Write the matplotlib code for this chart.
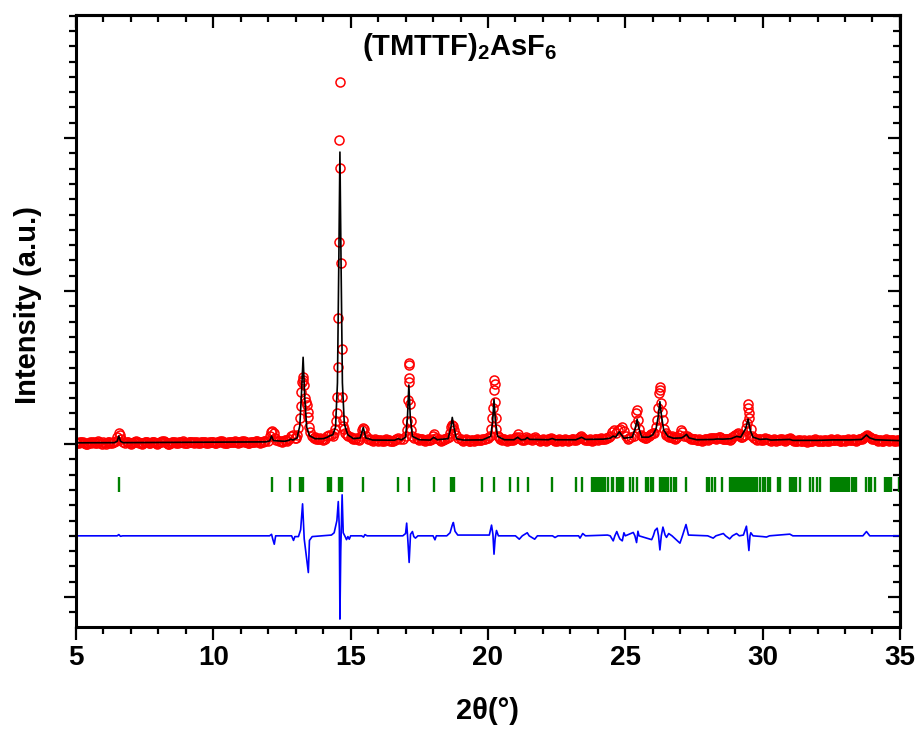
import matplotlib
matplotlib.use("Agg")
import matplotlib.pyplot as plt
from matplotlib import font_manager
from matplotlib.ticker import MultipleLocator
import numpy as np

# --- data ---------------------------------------------------------------
# background stretches of the observed scan (start angle, 0.05 deg step)
scan_step = 0.05
bg_runs = [
    (5.0, [12, 7, 4, 10, 16, 11, 8, 3, 2, 9, 14, 6, 10, 15, 5, 9, 17, 12, 7, 2,
           12, 8, 3, 11, 15, 6, 8, 14, 13]),
    (6.8, [6, 11, 14, 8, 3, 9, 12, 16, 17, 10, 8, 4, 2, 9, 15, 12, 11, 7, 5, 13,
           16, 11, 9, 3, 4, 10, 13, 17, 18, 12, 7, 3, 3, 9, 14, 11, 10, 5, 6, 14,
           12, 16, 17, 9, 5, 8, 11, 15, 16, 10, 8, 12, 13, 6, 4, 11, 15, 13, 10, 4,
           7, 12, 16, 14, 11, 6, 4, 10, 14, 17, 18, 13, 9, 5, 6, 12, 15, 14, 12, 16,
           17, 11, 8, 10, 13, 18, 19, 14, 10, 7, 6, 12, 16, 15, 12, 17, 20, 13, 9, 12,
           15, 17, 18]),
    (12.4, [22, 18, 14, 21, 27, 24, 20]),
    (13.7, [44, 36, 30, 34, 38, 32, 28]),
    (15.0, [46, 40, 32, 35, 38, 30, 28]),
    (15.7, [34, 27, 22, 26, 30, 24, 20, 25, 28, 21, 18, 26, 32, 28, 24, 20, 17, 23, 29]),
    (17.4, [38, 30, 26, 31, 33, 25, 20, 26, 30, 28, 24]),
    (18.2, [34, 28, 22, 27, 30, 35, 38]),
    (19.0, [36, 29, 22, 27, 31, 24, 18, 23, 29, 25, 20, 27, 33, 28, 24, 27, 30, 33,
            35, 38, 40]),
    (20.4, [44, 35, 28, 31, 34, 26, 20, 27, 32, 29, 26, 33, 38]),
    (21.2, [32, 28, 24, 36, 45, 40, 34, 30, 26, 38, 45, 36, 30, 25, 20, 26, 30, 24, 21, 27,
            31, 35, 37, 30, 26, 22, 18, 24, 30, 25, 20, 27, 32, 26, 22, 26, 29, 31, 33, 28,
            24, 32, 38, 46, 50, 42, 36, 29, 24, 28, 31, 26, 22, 29, 35, 30, 26, 32, 37, 34,
            30, 35, 40, 42, 44]),
    (25.1, [36, 42, 48]),
    (25.6, [52, 45, 38, 42, 48, 54, 58, 64, 72]),
    (26.5, [62, 52, 44, 48, 50, 42, 36, 42, 48]),
    (27.3, [48, 40, 30, 33, 36, 30, 24, 28, 32, 27, 22, 28, 34, 31, 28, 33, 38, 40, 42, 37,
            32, 40, 48, 43, 38, 34, 30, 33, 36, 32, 28, 36, 44, 52, 60, 66, 72, 58, 46, 49,
            52]),
    (29.7, [42, 35, 28, 31, 34, 29, 24, 32, 40, 36, 32, 27, 22, 26, 30, 25, 20, 24, 28, 30,
            31, 25, 19, 24, 30, 34, 38, 32, 26, 22, 18, 23, 28, 24, 20, 23, 27, 21, 16, 22,
            28, 23, 19, 24, 30, 24, 18, 22, 26, 23, 20, 24, 29, 23, 17, 24, 31, 27, 24, 27,
            30, 24, 19, 23, 28, 25, 21, 26, 32, 28, 24, 27, 30, 25, 20, 25, 31, 32, 34, 40,
            45, 52, 60, 54, 48, 38, 30, 32, 34, 28, 22, 25, 28, 23, 18, 24, 30, 25, 20, 24,
            29, 24, 19, 23, 27, 24, 22]),
]

# observed points across the reflections
peak_obs = [
    (6.45, 22), (6.50, 45), (6.55, 70), (6.60, 62), (6.65, 30), (6.70, 15),
    (12.00, 20), (12.05, 55), (12.10, 80), (12.15, 82), (12.20, 70), (12.25, 40), (12.30, 25),
    (12.75, 35), (12.82, 55), (12.90, 60), (12.97, 40),
    (13.02, 40), (13.06, 60), (13.10, 105), (13.14, 170), (13.18, 250), (13.21, 342),
    (13.24, 407), (13.26, 440), (13.28, 420), (13.31, 386), (13.34, 300), (13.37, 276),
    (13.40, 255), (13.43, 211), (13.46, 178), (13.49, 113), (13.53, 80), (13.58, 55), (13.65, 40),
    (14.05, 35), (14.15, 50), (14.22, 60), (14.28, 58), (14.34, 55), (14.40, 75),
    (14.44, 100), (14.47, 150), (14.49, 202), (14.51, 309), (14.53, 505), (14.55, 821),
    (14.57, 1322), (14.59, 1987), (14.61, 2368), (14.63, 1802), (14.65, 1181), (14.67, 621),
    (14.69, 305), (14.71, 157), (14.73, 115), (14.76, 95), (14.80, 75), (14.85, 60), (14.90, 50),
    (15.38, 55), (15.42, 90), (15.46, 105), (15.50, 95), (15.55, 55), (15.62, 35),
    (16.65, 30), (16.73, 38), (16.80, 30), (16.90, 30),
    (17.00, 50), (17.04, 90), (17.07, 150), (17.09, 288), (17.11, 429), (17.12, 531),
    (17.13, 515), (17.14, 407), (17.16, 260), (17.18, 150), (17.21, 90), (17.25, 55), (17.30, 40),
    (17.95, 30), (18.00, 55), (18.05, 65), (18.10, 40),
    (18.58, 45), (18.62, 75), (18.66, 110), (18.70, 124), (18.74, 120), (18.78, 92),
    (18.83, 60), (18.90, 40),
    (20.08, 50), (20.12, 96), (20.16, 168), (20.19, 233), (20.21, 353), (20.22, 418),
    (20.24, 390), (20.25, 277), (20.28, 168), (20.31, 96), (20.36, 55),
    (21.03, 45), (21.08, 65), (21.13, 45),
    (24.45, 50), (24.52, 80), (24.58, 92), (24.65, 75), (24.72, 90), (24.80, 100),
    (24.88, 110), (24.95, 85), (25.02, 50),
    (25.30, 55), (25.36, 124), (25.40, 200), (25.43, 222), (25.46, 157), (25.50, 100), (25.56, 60),
    (26.05, 75), (26.12, 110), (26.17, 157), (26.20, 233), (26.23, 331), (26.26, 375),
    (26.28, 350), (26.30, 266), (26.33, 211), (26.37, 157), (26.42, 100), (26.48, 70),
    (26.95, 60), (27.02, 92), (27.08, 80), (27.15, 50), (27.23, 55),
    (29.35, 60), (29.40, 102), (29.43, 135), (29.46, 233), (29.48, 261), (29.50, 200),
    (29.52, 168), (29.56, 100), (29.62, 55),
]

# calculated profile
calc_pts = [
    (5.0, 8), (6.40, 9), (6.50, 18), (6.56, 52), (6.62, 18), (6.72, 9),
    (11.9, 14), (12.05, 20), (12.12, 52), (12.19, 22), (12.6, 18), (12.75, 24), (12.82, 32),
    (12.9, 26), (13.05, 40), (13.15, 120), (13.21, 330), (13.27, 567), (13.33, 300),
    (13.40, 110), (13.5, 55), (13.7, 35), (14.0, 35), (14.16, 45), (14.25, 55), (14.35, 60),
    (14.45, 110), (14.52, 400), (14.57, 1200), (14.61, 1908), (14.65, 1200), (14.70, 400),
    (14.77, 130), (14.9, 60), (15.1, 35), (15.35, 40), (15.46, 109), (15.55, 40), (15.8, 26),
    (16.6, 25), (16.73, 35), (16.85, 27), (17.0, 45), (17.07, 180), (17.12, 386), (17.17, 180),
    (17.25, 50), (17.5, 28), (17.9, 26), (18.03, 44), (18.15, 28), (18.55, 35), (18.65, 110),
    (18.70, 174), (18.76, 110), (18.85, 35), (19.1, 26), (19.8, 27), (20.1, 50), (20.17, 150),
    (20.22, 292), (20.27, 150), (20.35, 50), (20.6, 28), (20.95, 28), (21.08, 44), (21.2, 28),
    (21.35, 30), (21.43, 42), (21.52, 30), (21.7, 30), (22.2, 28), (22.34, 36), (22.45, 28),
    (23.2, 28), (23.41, 44), (23.55, 30), (24.2, 32), (24.45, 38), (24.56, 52), (24.65, 45),
    (24.78, 80), (24.86, 60), (24.95, 38), (25.25, 45), (25.36, 100), (25.43, 161), (25.50, 100),
    (25.6, 45), (25.85, 45), (26.0, 60), (26.12, 100), (26.2, 180), (26.26, 277), (26.32, 180),
    (26.4, 90), (26.55, 50), (26.75, 38), (27.05, 40), (27.14, 50), (27.23, 63), (27.32, 40),
    (27.6, 28), (28.2, 30), (28.35, 33), (28.55, 32), (28.85, 35), (29.05, 50), (29.2, 45),
    (29.38, 100), (29.47, 163), (29.55, 90), (29.65, 45), (29.9, 30), (30.14, 33), (30.3, 26),
    (30.99, 30), (31.1, 24), (32.0, 24), (32.56, 27), (33.2, 27), (33.6, 30), (33.78, 59),
    (33.9, 40), (34.1, 28), (35.0, 22),
]

# difference curve (obs - calc), drawn shifted down
diff_offset = -600
diff_pts = [
    (5.0, 0), (6.5, 0), (6.56, 8), (6.62, -3), (6.7, 0), (12.05, 0), (12.12, 10), (12.17, -25),
    (12.22, -55), (12.27, 0), (12.85, 0), (12.92, -30), (12.97, -5), (13.1, -5), (13.18, 40),
    (13.25, 209), (13.31, -20), (13.38, -120), (13.46, -240), (13.50, -30), (13.6, -5),
    (14.3, 5), (14.4, 20), (14.5, 100), (14.55, 224), (14.59, 40), (14.61, -544), (14.64, -100),
    (14.69, 268), (14.73, 20), (14.8, -5), (14.85, -25), (14.9, -5), (14.95, -22), (15.0, 0),
    (15.4, 0), (15.47, -8), (15.52, 8), (15.6, 0), (16.9, 0), (17.0, 15), (17.04, 83),
    (17.08, -20), (17.13, -174), (17.18, 10), (17.25, 28), (17.3, -5), (17.36, -15), (17.45, 0),
    (18.0, 0), (18.07, -26), (18.12, 0), (18.5, 0), (18.62, 20), (18.7, 70), (18.74, 87),
    (18.8, 30), (18.9, 5), (20.05, 5), (20.13, 70), (20.18, 10), (20.22, -120), (20.26, -20),
    (20.31, 35), (20.38, 0), (21.0, 0), (21.14, -22), (21.25, 0), (21.43, 20), (21.5, 0),
    (21.7, -22), (21.8, 0), (22.35, 0), (22.44, -11), (22.55, 0), (23.3, 0), (23.35, -15),
    (23.45, 15), (23.55, 0), (24.35, 5), (24.45, 0), (24.56, -33), (24.62, 0), (24.69, 28),
    (24.75, 0), (24.80, -20), (24.89, -33), (24.95, 20), (25.0, 0), (25.29, 22), (25.35, 0),
    (25.41, -44), (25.46, 30), (25.5, 0), (25.96, -25), (26.02, 0), (26.08, 35), (26.16, 50),
    (26.21, 0), (26.26, -92), (26.31, 0), (26.37, 57), (26.45, 5), (26.5, -10), (26.58, 15),
    (26.7, 0), (26.99, -48), (27.08, 0), (27.21, 74), (27.3, 5), (28.0, 0), (28.2, -15),
    (28.3, 0), (28.57, 15), (28.65, 0), (28.8, -20), (28.9, 0), (29.05, 15), (29.15, 0),
    (29.3, 5), (29.41, 63), (29.45, 0), (29.50, -96), (29.54, 0), (29.57, 20), (29.65, 0),
    (30.0, -5), (30.14, -8), (30.25, 0), (30.99, 11), (31.1, 0), (33.65, 0), (33.78, 28),
    (33.9, 0), (35.0, 0),
]

# Bragg reflection positions
hkl_pos = [
    6.56, 12.12, 12.79, 13.15, 13.21, 13.27, 14.16, 14.22, 14.28, 14.58, 14.63, 14.69,
    15.46, 16.73, 17.12, 18.03, 18.64, 18.70, 18.77, 19.79, 20.22, 20.80, 21.10, 21.44,
    22.34, 23.20, 23.43,
    23.77, 23.83, 23.88, 23.93, 23.99, 24.04, 24.10, 24.15, 24.21, 24.26,
    24.38, 24.50, 24.56, 24.68, 24.78, 24.86, 24.93,
    25.17, 25.27, 25.41, 25.75, 25.84, 25.93, 26.02, 26.26, 26.33, 26.40, 26.48, 26.56,
    26.68, 26.77, 26.86, 27.21, 27.96, 28.06, 28.16, 28.26, 28.51,
    28.80, 28.86, 28.92, 28.98, 29.04, 29.10, 29.17, 29.23, 29.29, 29.35, 29.41, 29.48,
    29.54, 29.60, 29.66, 29.72, 29.78, 29.92, 30.00, 30.08, 30.18, 30.26, 30.57, 30.65,
    30.99, 31.06, 31.14, 31.22, 31.35, 31.74, 31.82, 31.97, 32.08,
    32.48, 32.55, 32.62, 32.70, 32.78, 32.86, 32.93, 33.00, 33.08, 33.16, 33.24, 33.32,
    33.40, 33.78, 33.86, 33.95, 34.09, 34.45, 34.52, 34.60, 34.69, 34.97,
]
hkl_lo, hkl_hi = -314, -216

# --- fonts ----------------------------------------------------------------
installed = {f.name for f in font_manager.fontManager.ttflist}
narrow = "Liberation Sans Narrow" if "Liberation Sans Narrow" in installed else "Liberation Sans"
plt.rcParams["font.family"] = [narrow, "DejaVu Sans"]
plt.rcParams["font.weight"] = "bold"
plt.rcParams["mathtext.fontset"] = "custom"
plt.rcParams["mathtext.rm"] = narrow
plt.rcParams["mathtext.bf"] = narrow + ":bold"

# --- assemble the scan ----------------------------------------------------
obs_t = []
obs_i = []
for start, vals in bg_runs:
    for k, v in enumerate(vals):
        obs_t.append(round(start + k * scan_step, 2))
        obs_i.append(v)
for t, v in peak_obs:
    obs_t.append(t)
    obs_i.append(v)

calc_t, calc_i = zip(*calc_pts)
diff_t, diff_v = zip(*diff_pts)

# --- plot -----------------------------------------------------------------
fig = plt.figure(figsize=(9.22, 7.29), dpi=100)
ax = fig.add_axes([0.0824, 0.1399, 0.8937, 0.8395])

ax.plot(obs_t, obs_i, "o", mfc="none", mec="red", ms=6.5, mew=1.1, zorder=2)
ax.plot(calc_t, calc_i, "-", color="black", lw=1.2, zorder=3)
ax.vlines(hkl_pos, hkl_lo, hkl_hi, color="green", lw=1.7, zorder=2)
ax.plot(diff_t, np.array(diff_v) + diff_offset, "-", color="blue", lw=1.2, zorder=2)

ax.set_xlim(5, 35)
ax.set_ylim(-1196, 2804)
ax.xaxis.set_major_locator(MultipleLocator(5))
ax.xaxis.set_minor_locator(MultipleLocator(1))
ax.yaxis.set_major_locator(MultipleLocator(1000))
ax.yaxis.set_minor_locator(MultipleLocator(100))
ax.set_yticklabels([])
ax.tick_params(which="both", direction="out", width=1.6, labelsize=20, pad=4)
ax.tick_params(which="major", length=9)
ax.tick_params(which="minor", length=5)
for s in ax.spines.values():
    s.set_linewidth(2.2)

# mirrored ticks pointing inward on top and right
top = ax.secondary_xaxis("top")
top.xaxis.set_major_locator(MultipleLocator(5))
top.xaxis.set_minor_locator(MultipleLocator(1))
top.tick_params(which="both", direction="in", width=1.6, labeltop=False)
top.tick_params(which="major", length=9)
top.tick_params(which="minor", length=5)
top.spines["top"].set_linewidth(2.2)

right = ax.secondary_yaxis("right")
right.yaxis.set_major_locator(MultipleLocator(1000))
right.yaxis.set_minor_locator(MultipleLocator(100))
right.tick_params(which="both", direction="in", width=1.6, labelright=False)
right.tick_params(which="major", length=9)
right.tick_params(which="minor", length=5)
right.spines["right"].set_linewidth(2.2)

fig.text(460 / 922, 1 - 55 / 729, r"(TMTTF)$_\mathbf{2}$AsF$_\mathrm{6}$",
         ha="center", va="baseline", fontsize=21, fontweight="bold")
fig.text(487 / 922, 1 - 719 / 729, "2θ(°)", ha="center", va="baseline",
         fontsize=21, fontweight="bold")
fig.text(28 / 922, 1 - 305 / 729, "Intensity (a.u.)", rotation=90,
         ha="center", va="center", fontsize=21, fontweight="bold",
         family=["Liberation Sans", "DejaVu Sans"])

fig.savefig("out.png", dpi=100)
